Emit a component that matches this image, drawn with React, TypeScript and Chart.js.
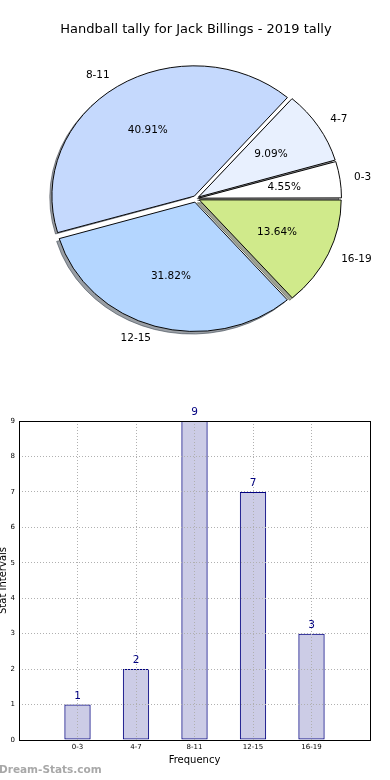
import React, { useEffect, useRef } from 'react';
import { Chart, registerables } from 'chart.js';

Chart.register(...registerables);
Chart.defaults.font.family = '"DejaVu Sans", sans-serif';

// ---------- data ----------
const chartTitle = 'Handball tally for Jack Billings - 2019 tally';
const pieLabels = ['0-3', '4-7', '8-11', '12-15', '16-19'];
const pieValues = [1, 2, 9, 7, 3];
const pieColors = ['#ffffff', '#e8f0fe', '#c5d9fd', '#b4d6ff', '#d0ea8b'];

const categories = ['0-3', '4-7', '8-11', '12-15', '16-19'];
const barValues = [1, 2, 9, 7, 3];
const yMax = 9;
const xTitle = 'Frequency';
const yTitle = 'Stat Intervals';
const watermark = 'Dream-Stats.com';

// ---------- pie helpers ----------
const RX = 141;
const SY = 129 / 141; // vertical squash of the pie
const EXPLODE = 4.5;
const total = pieValues.reduce((a, b) => a + b, 0);
// Chart.js draws clockwise from the start angle; matplotlib counter-clockwise.
const cwLabels = [...pieLabels].reverse();
const cwValues = [...pieValues].reverse();
const cwColors = [...pieColors].reverse();
const cwOffsets = cwValues.map((v) => {
  const circ = (2 * Math.PI * v) / total;
  const fix = 1 - Math.sin(Math.min(Math.PI, circ));
  return (4 * EXPLODE) / (1 + fix);
});

function shadowOf(hex: string, a: number) {
  const r = parseInt(hex.slice(1, 3), 16) * 0.3;
  const g = parseInt(hex.slice(3, 5), 16) * 0.3;
  const b = parseInt(hex.slice(5, 7), 16) * 0.3;
  return `rgba(${r | 0},${g | 0},${b | 0},${a})`;
}

const pieShape = {
  id: 'pieShape',
  beforeDatasetsDraw(chart: any) {
    const arcs = chart.getDatasetMeta(0).data;
    const ctx = chart.ctx;
    const cx = arcs[0].x;
    const cy = arcs[0].y;
    ctx.save();
    ctx.translate(cx, cy);
    ctx.scale(1, SY);
    ctx.translate(-cx, -cy);
    arcs.forEach((a: any, i: number) => {
      const mid = (a.startAngle + a.endAngle) / 2;
      const ox = cx + Math.cos(mid) * EXPLODE - 2.8;
      const oy = cy + Math.sin(mid) * EXPLODE + 2.6 / SY;
      ctx.beginPath();
      ctx.moveTo(ox, oy);
      ctx.arc(ox, oy, a.outerRadius, a.startAngle, a.endAngle);
      ctx.closePath();
      ctx.fillStyle = shadowOf(cwColors[i], 0.5);
      ctx.fill();
      ctx.lineWidth = 1;
      ctx.strokeStyle = shadowOf(cwColors[i], 0.6);
      ctx.stroke();
    });
  },
  afterDatasetsDraw(chart: any) {
    const ctx = chart.ctx;
    ctx.restore();
    const arcs = chart.getDatasetMeta(0).data;
    ctx.save();
    ctx.fillStyle = '#000';
    ctx.font = '10.5px "DejaVu Sans"';
    ctx.textBaseline = 'middle';
    arcs.forEach((a: any, i: number) => {
      const mid = (a.startAngle + a.endAngle) / 2;
      const c = Math.cos(mid);
      const s = Math.sin(mid);
      const r = a.outerRadius;
      const bx = a.x + c * EXPLODE;
      const by = a.y + s * EXPLODE * SY;
      // category label
      ctx.textAlign = c > 0 ? 'left' : 'right';
      ctx.fillText(cwLabels[i], bx + c * r * 1.1, by + s * r * 1.1 * SY);
      // percentage
      ctx.textAlign = 'center';
      const pct = ((cwValues[i] / total) * 100).toFixed(2) + '%';
      ctx.fillText(pct, bx + c * r * 0.6, by + s * r * 0.6 * SY);
    });
    ctx.restore();
  },
};

const barExtras = {
  id: 'barExtras',
  afterDraw(chart: any) {
    const { ctx, chartArea: ca } = chart;
    ctx.save();
    ctx.strokeStyle = '#000';
    ctx.lineWidth = 1;
    ctx.strokeRect(
      Math.round(ca.left) + 0.5,
      Math.round(ca.top) + 0.5,
      Math.round(ca.right - ca.left),
      Math.round(ca.bottom - ca.top)
    );
    const meta = chart.getDatasetMeta(0);
    ctx.fillStyle = '#000080';
    ctx.font = '10.5px "DejaVu Sans"';
    ctx.textAlign = 'center';
    ctx.textBaseline = 'alphabetic';
    meta.data.forEach((bar: any, i: number) => {
      ctx.fillText(String(barValues[i]), bar.x, bar.y - 6);
    });
    ctx.restore();
  },
};

export default function App() {
  const pieRef = useRef<HTMLCanvasElement>(null);
  const barRef = useRef<HTMLCanvasElement>(null);

  useEffect(() => {
    const pie = new Chart(pieRef.current as HTMLCanvasElement, {
      type: 'pie',
      data: {
        labels: cwLabels,
        datasets: [
          {
            data: cwValues,
            backgroundColor: cwColors,
            borderColor: '#000',
            borderWidth: 1,
            offset: cwOffsets,
            clip: false,
          } as any,
        ],
      },
      options: {
        animation: false,
        responsive: true,
        maintainAspectRatio: false,
        radius: RX,
        rotation: 90,
        layout: { padding: { left: 2, right: 0, top: 0, bottom: 40.8 } },
        plugins: {
          legend: { display: false },
          tooltip: { enabled: false },
          title: {
            display: true,
            text: chartTitle,
            color: '#000',
            font: { size: 13, weight: 'normal', family: '"DejaVu Sans"' },
            padding: { top: 22.2, bottom: 10 },
          },
        },
      } as any,
      plugins: [pieShape],
    });

    const gridCommon = {
      color: '#b0b0b0',
      lineWidth: 1,
      drawTicks: false,
      z: 1,
    };

    const bar = new Chart(barRef.current as HTMLCanvasElement, {
      type: 'bar',
      data: {
        datasets: [
          {
            data: barValues.map((v, i) => ({ x: i, y: v })),
            backgroundColor: 'rgba(0,0,128,0.2)',
            borderColor: '#000080',
            borderWidth: 1,
            borderSkipped: false,
            barPercentage: 0.45,
            categoryPercentage: 1,
          } as any,
        ],
      },
      options: {
        animation: false,
        responsive: true,
        maintainAspectRatio: false,
        layout: { padding: { left: 0, right: 20, top: 21, bottom: 0 } },
        plugins: {
          legend: { display: false },
          tooltip: { enabled: false },
        },
        scales: {
          x: {
            type: 'linear',
            min: -1,
            max: categories.length,
            offset: false,
            grid: { ...gridCommon, offset: false },
            border: { display: false, dash: [1, 2] },
            ticks: {
              stepSize: 1,
              autoSkip: false,
              maxRotation: 0,
              padding: 3,
              color: '#000',
              font: { size: 7 },
              callback: (v: any) => categories[v] ?? '',
            },
            title: {
              display: true,
              text: xTitle,
              color: '#000',
              font: { size: 10 },
              padding: { top: 0, bottom: 14 },
            },
            afterFit: (s: any) => {
              s.height = 40;
            },
          },
          y: {
            min: 0,
            max: yMax,
            grid: gridCommon,
            border: { display: false, dash: [1, 2] },
            ticks: {
              stepSize: 1,
              padding: 4,
              color: '#000',
              font: { size: 7 },
            },
            title: {
              display: true,
              text: yTitle,
              color: '#000',
              font: { size: 10 },
              padding: { top: 0, bottom: 0 },
            },
            afterFit: (s: any) => {
              s.width = 22;
            },
          },
        },
      } as any,
      plugins: [barExtras],
    });

    return () => {
      pie.destroy();
      bar.destroy();
    };
  }, []);

  return (
    <div
      style={{
        position: 'fixed',
        left: 0,
        top: 0,
        width: 390,
        height: 780,
        background: '#fff',
        overflow: 'hidden',
      }}
    >
      <div style={{ position: 'absolute', left: 0, top: 0, width: 390, height: 390 }}>
        <canvas ref={pieRef} />
      </div>
      <div style={{ position: 'absolute', left: -3, top: 400, width: 393, height: 380 }}>
        <canvas ref={barRef} />
      </div>
      <div
        style={{
          position: 'absolute',
          left: -1,
          top: 763,
          font: 'bold 10.5px "DejaVu Sans"',
          color: '#a8a8a8',
          whiteSpace: 'nowrap',
        }}
      >
        {watermark}
      </div>
    </div>
  );
}
